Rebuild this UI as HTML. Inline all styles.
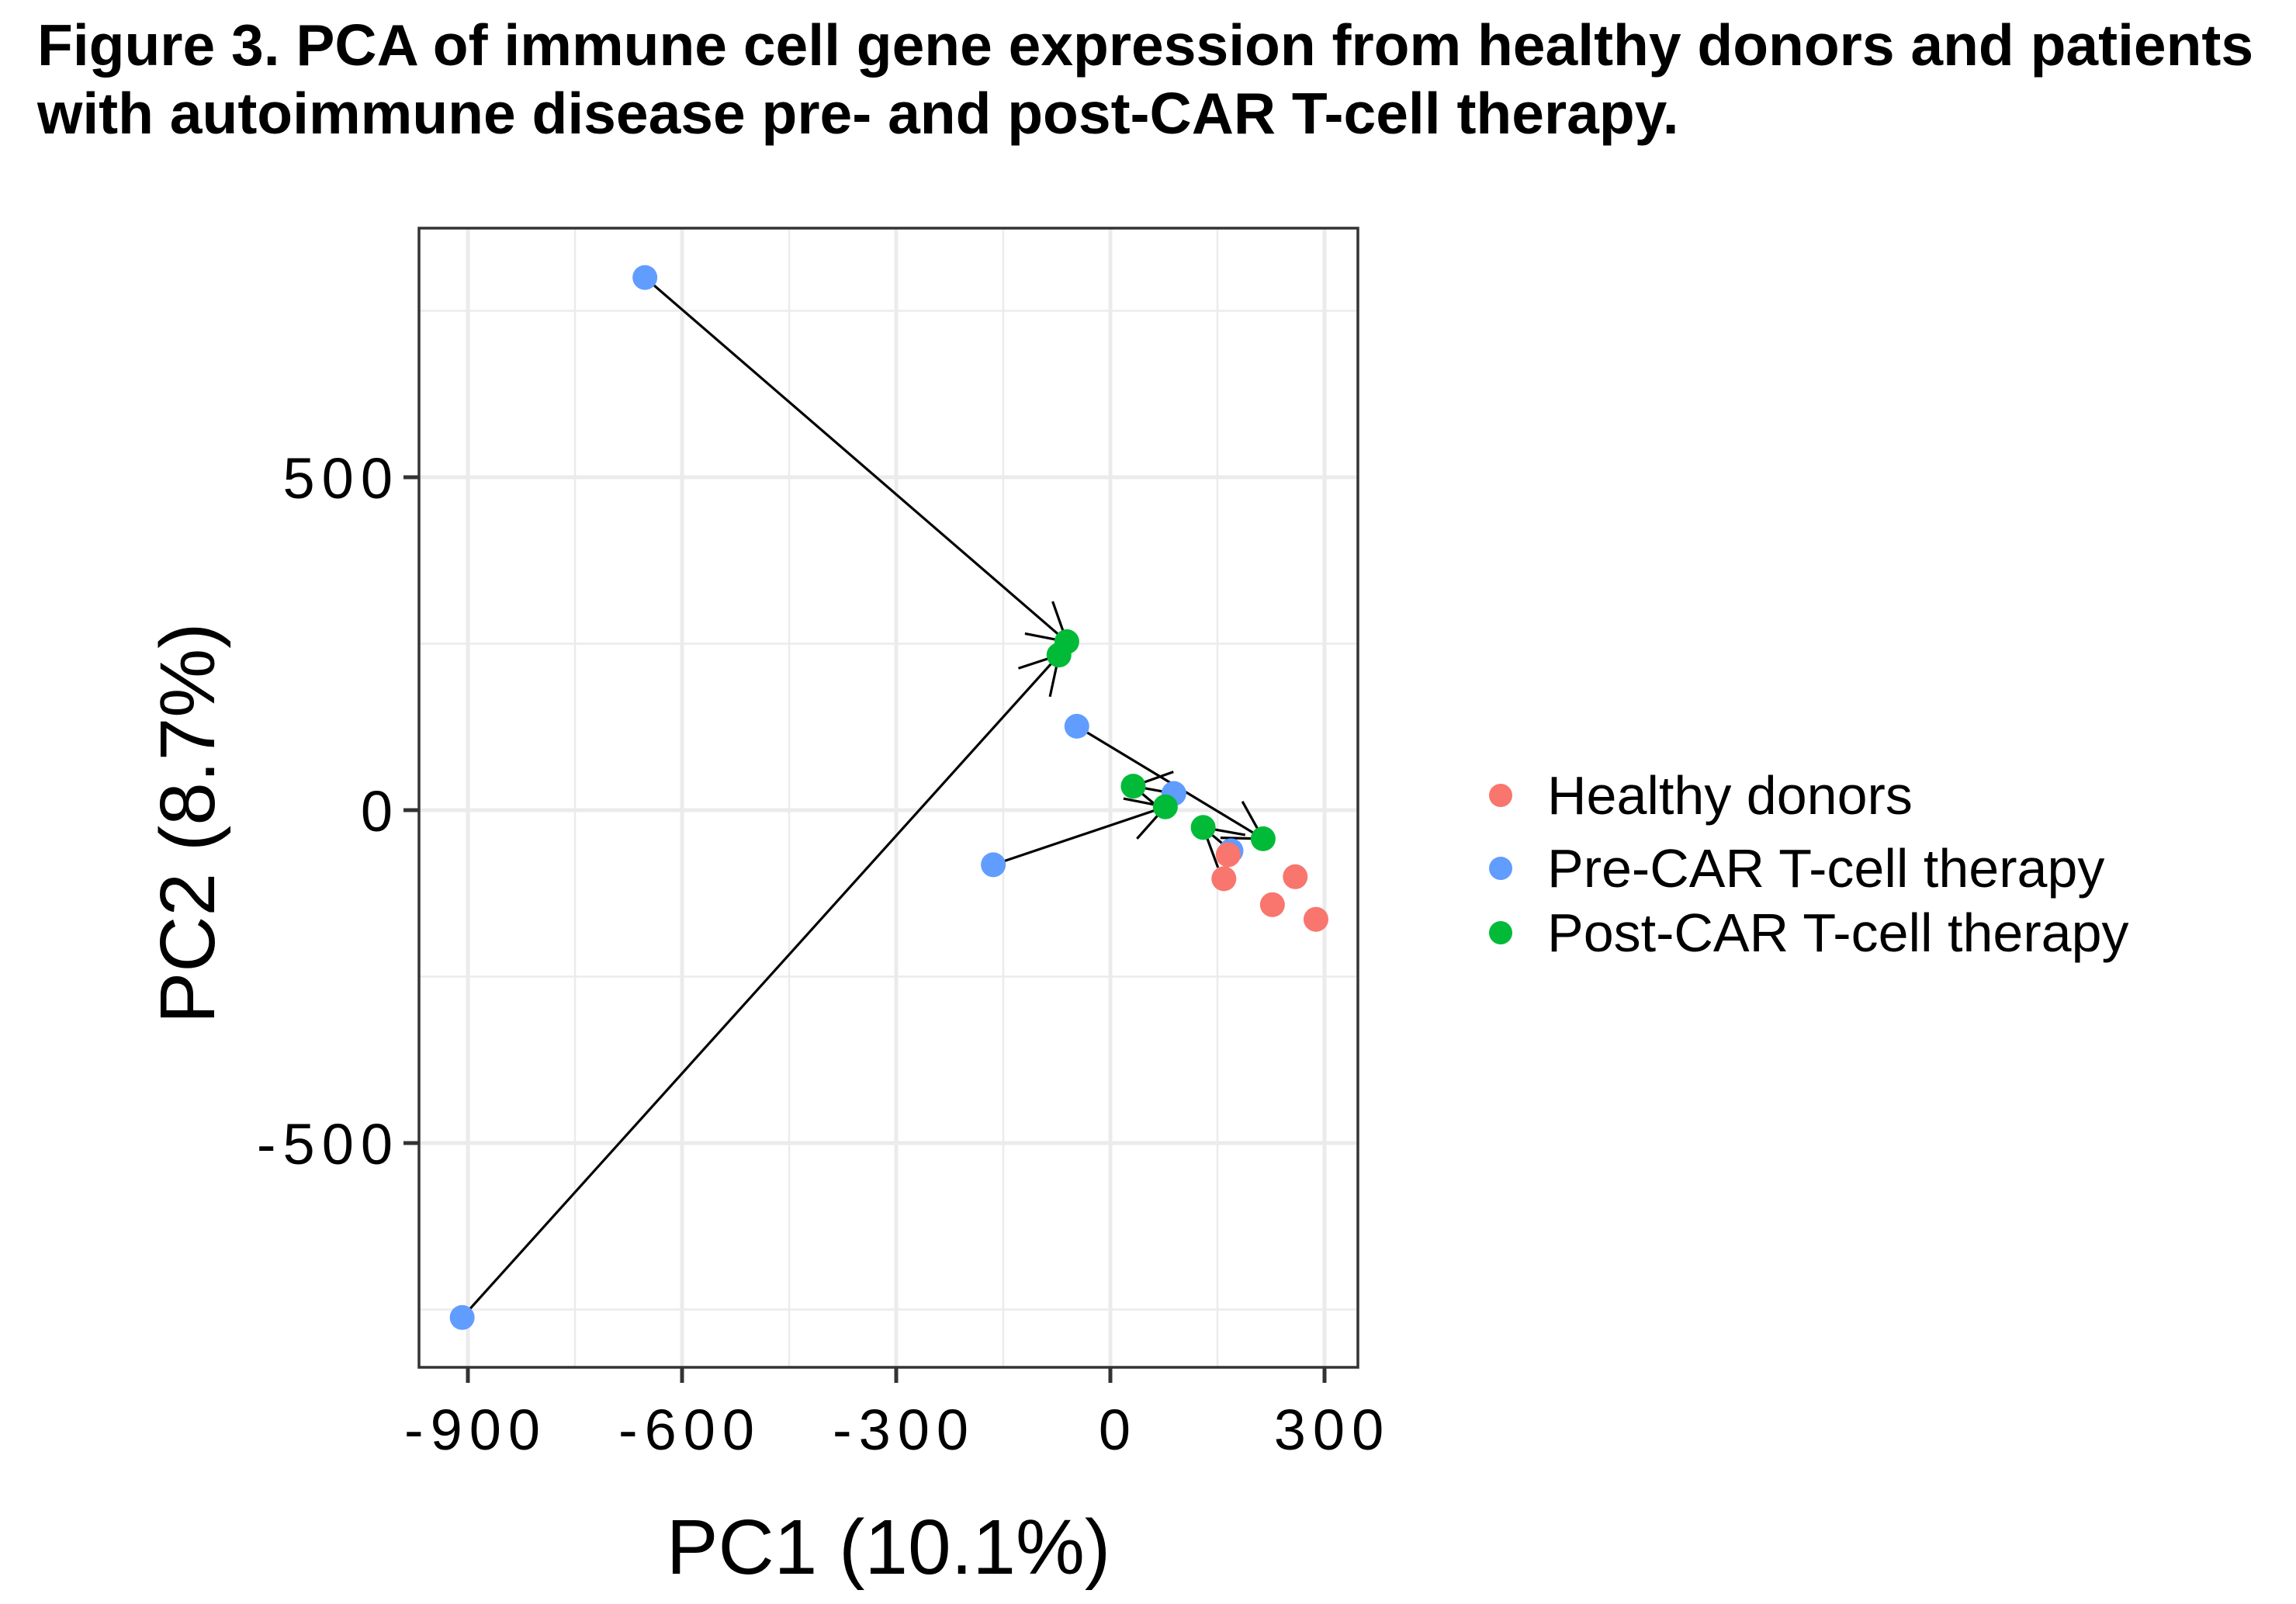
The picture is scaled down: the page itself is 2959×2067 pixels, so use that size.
<!DOCTYPE html>
<html><head><meta charset="utf-8"><style>
body{margin:0;background:#fff;}
svg{display:block;font-family:"Liberation Sans",Arial,sans-serif;}
</style></head><body>
<svg id="chart" width="2959" height="2067" viewBox="0 0 2959 2067">
<text x="48" y="84" font-size="75" font-weight="bold" fill="#000">Figure 3. PCA of immune cell gene expression from healthy donors and patients</text>
<text x="48" y="172" font-size="75" font-weight="bold" fill="#000">with autoimmune disease pre- and post-CAR T-cell therapy.</text>
<g id="grid"></g>
<g id="arrows"></g>
<g id="points"></g>
<rect x="540" y="294" width="1210" height="1468" fill="none" stroke="#333" stroke-width="3.5"/>
<g id="axes"></g>
<text x="1145" y="2028" font-size="100" text-anchor="middle" fill="#000">PC1 (10.1%)</text>
<text transform="translate(276,1061) rotate(-90)" font-size="100" text-anchor="middle" fill="#000">PC2 (8.7%)</text>
<g id="legend"></g>
</svg>
<script>
const groups = ["Healthy donors","Pre-CAR T-cell therapy","Post-CAR T-cell therapy"];
const groupColors = ["#F8766D","#619CFF","#00BA38"];
const healthyPC1 = [165,159,259,227,288];
const healthyPC2 = [-67,-103,-100,-142,-164];
const prePC1 = [-652,-908,-47,-164,89,169];
const prePC2 = [800,-762,126,-82,25,-61];
const postPC1 = [-61,-72,214,77,32,130];
const postPC2 = [253,233,-43,5,36,-26];
const xTicks = [-900,-600,-300,0,300];
const yTicks = [500,0,-500];
const xMinor = [-750,-450,-150,150];
const yMinor = [750,250,-250,-750];

const NS="http://www.w3.org/2000/svg";
const L=540,R=1750,T=294,B=1762;
const sx=v=>1431+v*0.92;
const sy=v=>1044-v*0.858;
function mk(tag,attrs,parent){const e=document.createElementNS(NS,tag);for(const k in attrs)e.setAttribute(k,attrs[k]);parent.appendChild(e);return e;}
const grid=document.getElementById('grid');
xMinor.forEach(v=>{const e=mk('line',{x1:sx(v),x2:sx(v),y1:T,y2:B,stroke:'#EBEBEB','stroke-width':2.5},grid);

});
yMinor.forEach(v=>{const e=mk('line',{x1:L,x2:R,y1:sy(v),y2:sy(v),stroke:'#EBEBEB','stroke-width':2.5},grid);

});
xTicks.forEach(v=>{const e=mk('line',{x1:sx(v),x2:sx(v),y1:T,y2:B,stroke:'#EBEBEB','stroke-width':5},grid);

});
yTicks.forEach(v=>{const e=mk('line',{x1:L,x2:R,y1:sy(v),y2:sy(v),stroke:'#EBEBEB','stroke-width':5},grid);

});
const axes=document.getElementById('axes');
xTicks.forEach(v=>{const t=mk('line',{x1:sx(v),x2:sx(v),y1:B,y2:B+20,stroke:'#333','stroke-width':5},axes);


const l=mk('text',{x:sx(v)+10,y:1868,'font-size':74,'text-anchor':'middle','letter-spacing':9,fill:'#000'},axes);l.textContent=String(v);

});
yTicks.forEach(v=>{const t=mk('line',{x1:L-20,x2:L,y1:sy(v),y2:sy(v),stroke:'#333','stroke-width':5},axes);


const l=mk('text',{x:515,y:sy(v)+27,'font-size':74,'text-anchor':'end','letter-spacing':9,fill:'#000'},axes);l.textContent=String(v);

});
const arrowFrom=[0,1,2,3,4,5];
const arrowTo=[0,1,2,3,4,5];
const ag=document.getElementById('arrows');
arrowFrom.forEach((pi,i)=>{
 const x1=sx(prePC1[pi]),y1=sy(prePC2[pi]),x2=sx(postPC1[arrowTo[i]]),y2=sy(postPC2[arrowTo[i]]);
 const ln=mk('line',{x1,y1,x2,y2,stroke:'#000','stroke-width':3.2},ag);
 
 
 const a=Math.atan2(y1-y2,x1-x2),len=55;
 [0.52,-0.52].forEach(d=>{const b=mk('line',{x1:x2,y1:y2,x2:x2+len*Math.cos(a+d),y2:y2+len*Math.sin(a+d),stroke:'#000','stroke-width':3.2},ag);
 
 });
});
const pg=document.getElementById('points');
function dots(xs,ys,c,name){xs.forEach((v,i)=>{const e=mk('circle',{cx:sx(v),cy:sy(ys[i]),r:16,fill:c},pg);

});}
dots(prePC1,prePC2,groupColors[1],'pre-car-point');
dots(postPC1,postPC2,groupColors[2],'post-car-point');
dots(healthyPC1,healthyPC2,groupColors[0],'healthy-donor-point');
const lg=document.getElementById('legend');
const ly=[1025,1119,1202];
groups.forEach((g,i)=>{const c=mk('circle',{cx:1934,cy:ly[i],r:15,fill:groupColors[i]},lg);


const t=mk('text',{x:1994,y:ly[i]+24,'font-size':70,fill:'#000'},lg);t.textContent=g;

});
</script>
</body></html>
